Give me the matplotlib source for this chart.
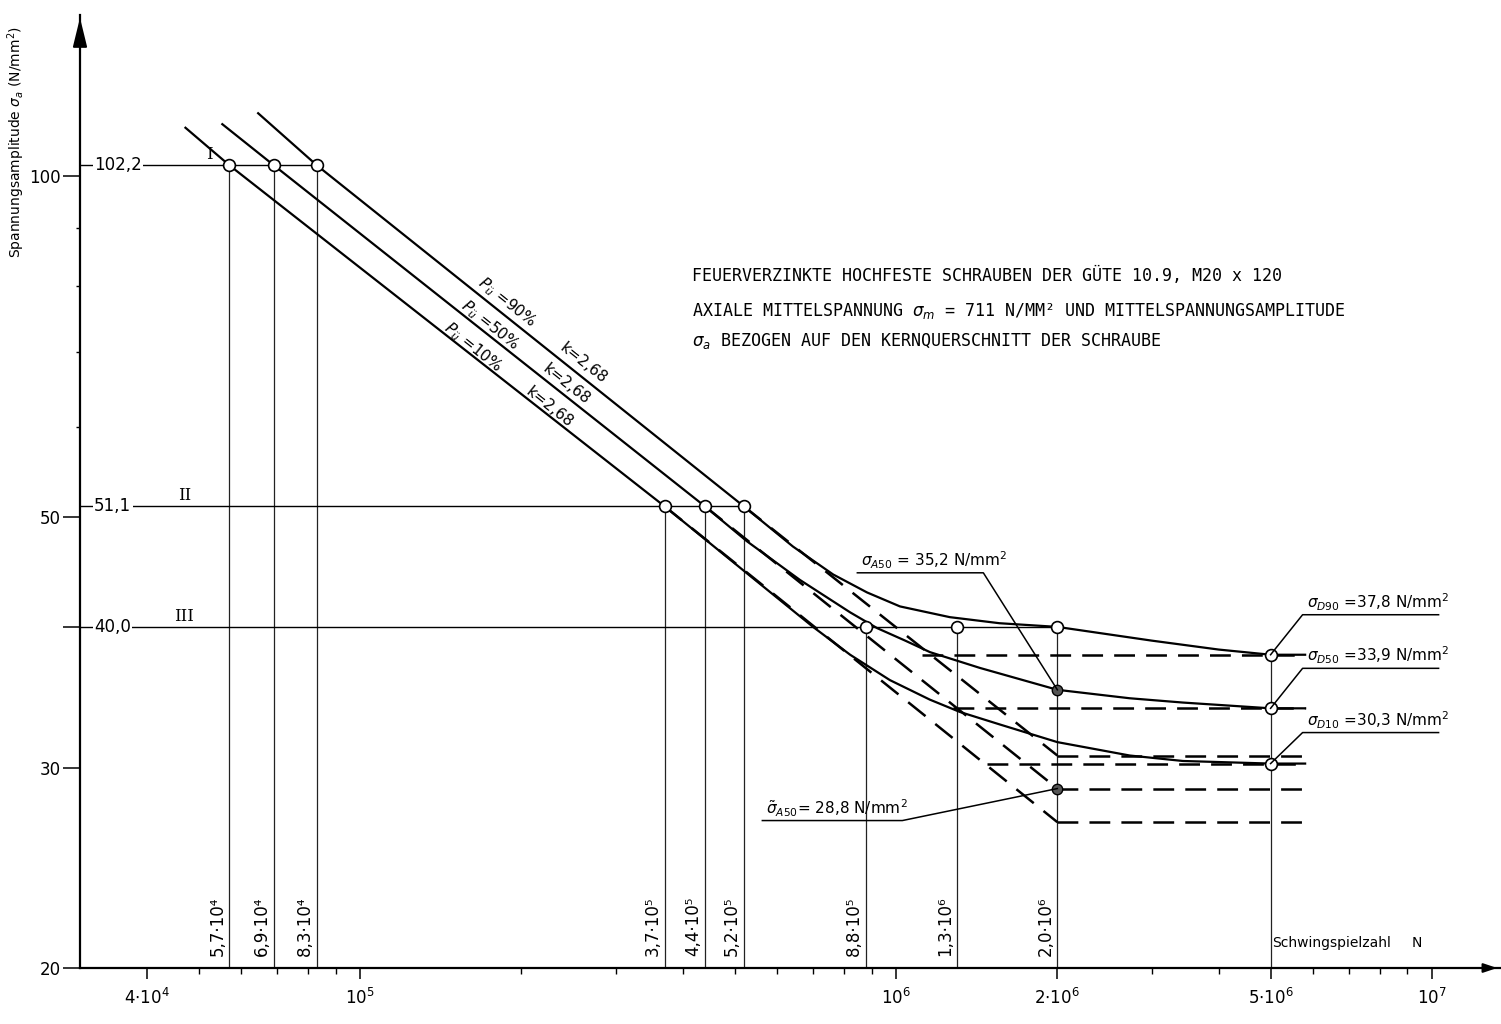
import numpy as np
import matplotlib
matplotlib.use('Agg')
import matplotlib.pyplot as plt
from matplotlib.lines import Line2D
from matplotlib.transforms import IdentityTransform, blended_transform_factory

# load levels I, II, III (N/mm^2) and the cycle numbers read at each level
levels = [102.2, 51.1, 40.0]
level_names = ['I', 'II', 'III']
level_text = ['102,2', '51,1', '40,0']
n_level = [[5.7e4, 6.9e4, 8.3e4],
           [3.7e5, 4.4e5, 5.2e5],
           [8.8e5, 1.3e6, 2.0e6]]
n_level_labels = [['5,7·10⁴', '6,9·10⁴', '8,3·10⁴'],
                  ['3,7·10⁵', '4,4·10⁵', '5,2·10⁵'],
                  ['8,8·10⁵', '1,3·10⁶', '2,0·10⁶']]

# endurance limits at N = 5e6 (P = 90, 50, 10 %)
n_D = 5e6
sigma_D = [37.8, 33.9, 30.3]
sigma_D_labels = [r'$\sigma_{D90}$ =37,8 N/mm$^2$',
                  r'$\sigma_{D50}$ =33,9 N/mm$^2$',
                  r'$\sigma_{D10}$ =30,3 N/mm$^2$']

# sigma_A at N = 2e6
n_A = 2e6
sigma_A = [35.2, 28.8]

# Woehler curves
n_p90 = [6.45e4, 8.3e4, 5.2e5, 6.42e5, 7.63e5, 8.83e5, 1.017e6, 1.26e6, 1.56e6,
         2.0e6, 3.0e6, 4.0e6, 5.0e6, 5.8e6]
s_p90 = [113.6, 102.2, 51.1, 47.1, 44.5, 42.9, 41.7, 40.8, 40.3,
         40.0, 38.9, 38.2, 37.8, 37.8]
n_p50 = [5.53e4, 6.9e4, 4.4e5, 5.27e5, 6.62e5, 8.21e5, 9.22e5, 1.04e6, 1.157e6,
         1.434e6, 2.0e6, 2.73e6, 3.43e6, 5.0e6, 5.8e6]
s_p50 = [111.1, 102.2, 51.1, 47.6, 44.0, 41.2, 39.9, 38.9, 38.0,
         36.8, 35.2, 34.6, 34.3, 33.9, 33.9]
n_p10 = [4.72e4, 5.7e4, 3.7e5, 5.27e5, 7.0e5, 8.21e5, 9.74e5, 1.157e6, 1.316e6,
         1.564e6, 2.0e6, 2.73e6, 3.43e6, 5.0e6, 5.8e6]
s_p10 = [110.3, 102.2, 51.1, 44.6, 40.0, 37.8, 35.9, 34.5, 33.65,
         32.8, 31.65, 30.8, 30.46, 30.3, 30.3]

# dashed extensions of the k = 2,68 lines down to N = 2e6
ext_sigma_end = [30.8, 28.8, 26.9]   # for 90, 50, 10 %

# horizontal dashed lines
dash_levels = [37.8, 33.9, 30.3, 30.8, 28.8, 26.9]
dash_n_start = [1.12e6, 1.28e6, 1.48e6, 2.0e6, 2.0e6, 2.0e6]
dash_n_end = 5.8e6

x_major = [4e4, 1e5, 1e6, 2e6, 5e6, 1e7]
x_major_labels = [r'$4{\cdot}10^4$', r'$10^5$', r'$10^6$', r'$2{\cdot}10^6$',
                  r'$5{\cdot}10^6$', r'$10^7$']
x_minor = [5e4, 6e4, 7e4, 8e4, 9e4, 2e5, 3e5, 4e5, 5e5, 6e5, 7e5, 8e5, 9e5,
           3e6, 4e6, 6e6, 7e6, 8e6, 9e6]
y_major = [20, 30, 40, 50, 100]
y_major_labels = ['20', '30', '', '50', '100']
y_minor = [60, 70, 80, 90]

plt.rcParams['lines.scale_dashes'] = False

W, H = 1501, 1024
fig = plt.figure(figsize=(W / 100, H / 100), dpi=100)
ax = fig.add_axes([80 / W, 56 / H, 1420 / W, 953 / H])
ax.set_xscale('log')
ax.set_yscale('log')
ax.set_xlim(3.0e4, 1.34e7)
ax.set_ylim(20, 138.7)

for s in ['top', 'right']:
    ax.spines[s].set_visible(False)
for s in ['left', 'bottom']:
    ax.spines[s].set_linewidth(1.6)

ax.set_xticks(x_major)
ax.set_xticklabels(x_major_labels, fontsize=12)
ax.set_xticks(x_minor, minor=True)
ax.set_xticklabels([], minor=True)
ax.set_yticks(y_major)
ax.set_yticklabels(y_major_labels, fontsize=12)
ax.set_yticks(y_minor, minor=True)
ax.set_yticklabels([], minor=True)
ax.tick_params(axis='x', which='major', length=8, width=1.1, pad=6)
ax.tick_params(axis='x', which='minor', length=4, width=1.0)
ax.tick_params(axis='y', which='major', length=12, width=1.1, pad=2)
ax.tick_params(axis='y', which='minor', length=3, width=1.0)

# axis arrows
ax.annotate('', xy=(0, 1.0), xytext=(0, 0.95), xycoords='axes fraction',
            arrowprops=dict(arrowstyle='-|>,head_length=0.9,head_width=0.22',
                            color='k', lw=1.4, mutation_scale=20))
ax.annotate('', xy=(1.0, 0), xytext=(0.97, 0), xycoords='axes fraction',
            arrowprops=dict(arrowstyle='-|>,head_length=0.6,head_width=0.2',
                            color='k', lw=1.4, mutation_scale=14))

lev_trans = blended_transform_factory(ax.transAxes, ax.transData)
name_offset = {'I': 126, 'II': 98, 'III': 94}

# load levels, vertical lines and circles
for lev, name, txt, ns, labs in zip(levels, level_names, level_text,
                                    n_level, n_level_labels):
    ax.plot([3.0e4, max(ns)], [lev, lev], color='k', lw=1.0, zorder=2)
    ax.text(0.01, lev, txt, transform=lev_trans, ha='left', va='center',
            fontsize=12, bbox=dict(facecolor='white', edgecolor='none', pad=1),
            zorder=3)
    ax.annotate(name, xy=(0, lev), xycoords=lev_trans, xytext=(name_offset[name], 2),
                textcoords='offset pixels', ha='left', va='bottom',
                fontsize=12, family='DejaVu Serif')
    for n, lab in zip(ns, labs):
        ax.plot([n, n], [20, lev], color='#222222', lw=0.9, zorder=2)
        ax.annotate(lab, xy=(n, 20), xytext=(-3, 12), textcoords='offset pixels',
                    rotation=90, ha='right', va='bottom', fontsize=12)
    ax.plot(ns, [lev] * len(ns), 'o', ms=8.5, mfc='white', mec='k', mew=1.2,
            zorder=6)

# vertical at endurance limit
ax.plot([n_D, n_D], [20, max(sigma_D)], color='#222222', lw=0.9, zorder=2)

# solid curves
for ns, ss in [(n_p90, s_p90), (n_p50, s_p50), (n_p10, s_p10)]:
    ax.plot(ns, ss, color='k', lw=1.6, zorder=4, solid_joinstyle='round')

# dashed extensions k = 2,68
for n0, s1 in zip(n_level[1][::-1], ext_sigma_end):
    ln, = ax.plot([n0, n_A], [levels[1], s1], color='k', lw=1.8, zorder=3)
    ln.set_dashes([16, 9])

for lev, n0 in zip(dash_levels, dash_n_start):
    ln, = ax.plot([n0, dash_n_end], [lev, lev], color='k', lw=1.8, zorder=3)
    ln.set_dashes([15, 8])

# endurance limit circles and sigma_A dots
ax.plot([n_D] * 3, sigma_D, 'o', ms=8.5, mfc='white', mec='k', mew=1.2, zorder=6)
ax.plot([n_A] * 2, sigma_A, 'o', ms=7.5, mfc='#555555', mec='k', mew=1.0, zorder=6)

# leader labels (pixel offsets from the data point)
fig.canvas.draw()


def leader(xy, dx, dy, length, text, size=11):
    px, py = ax.transData.transform(xy)
    xs = [px, px + dx, px + dx + length]
    ys = [py, py + dy, py + dy]
    fig.add_artist(Line2D(xs, ys, transform=IdentityTransform(), color='k', lw=1.1))
    x0 = min(px + dx, px + dx + length)
    fig.text(x0 + 4, py + dy + 2, text, transform=IdentityTransform(),
             ha='left', va='bottom', fontsize=size)


for s, lab in zip(sigma_D, sigma_D_labels):
    leader((n_D, s), 32, 40 if s > 31 else 31, 136, lab)
leader((n_A, sigma_A[0]), -74, 117, -126, r'$\sigma_{A50}$ = 35,2 N/mm$^2$')
leader((n_A, sigma_A[1]), -155, -32, -140, r'$\tilde{\sigma}_{A50}$= 28,8 N/mm$^2$')

# curve labels along the inclined lines
ang = -38.5
for txt, x, y in [(r'$P_{\ddot u}$ =90%', 507, 302), (r'$P_{\ddot u}$ =50%', 490, 325),
                  (r'$P_{\ddot u}$ =10%', 473, 347), ('k=2,68', 583, 363),
                  ('k=2,68', 566, 384), ('k=2,68', 549, 407)]:
    fig.text(x / W, 1 - y / H, txt, rotation=ang, ha='center', va='center',
             fontsize=11, rotation_mode='anchor')

# description
fig.text(692 / W, 1 - 276 / H,
         'FEUERVERZINKTE HOCHFESTE SCHRAUBEN DER GÜTE 10.9, M20 x 120',
         family='DejaVu Sans Mono', fontsize=12, va='center')
fig.text(692 / W, 1 - 311 / H,
         r'AXIALE MITTELSPANNUNG $\sigma_m$ = 711 N/MM² UND MITTELSPANNUNGSAMPLITUDE',
         family='DejaVu Sans Mono', fontsize=12, va='center')
fig.text(692 / W, 1 - 341 / H,
         r'$\sigma_a$ BEZOGEN AUF DEN KERNQUERSCHNITT DER SCHRAUBE',
         family='DejaVu Sans Mono', fontsize=12, va='center')

# axis titles
fig.text(16 / W, 1 - 142 / H, r'Spannungsamplitude $\sigma_a$ (N/mm$^2$)',
         rotation=90, ha='center', va='center', fontsize=10)
fig.text(1272 / W, 1 - 943 / H, 'Schwingspielzahl', ha='left', va='center',
         fontsize=10)
fig.text(1412 / W, 1 - 943 / H, 'N', ha='left', va='center', fontsize=10)

fig.savefig('out.png', dpi=100)
